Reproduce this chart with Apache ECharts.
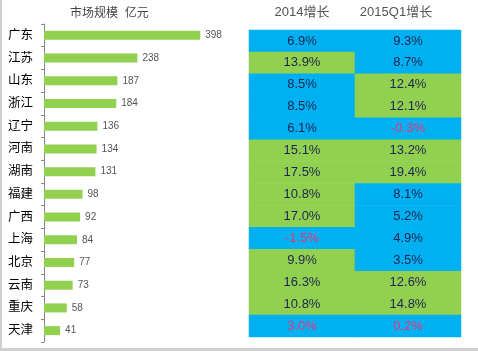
<!DOCTYPE html>
<html><head><meta charset="utf-8">
<script src="https://cdn.jsdelivr.net/npm/echarts@6/dist/echarts.min.js"></script>
<style>html,body{margin:0;padding:0;background:#fff}#c{width:478px;height:351px}</style>
</head><body><div id="c"></div>
<script>
const provinces = ['广东','江苏','山东','浙江','辽宁','河南','湖南','福建','广西','上海','北京','云南','重庆','天津'];
const marketSize = [398,238,187,184,136,134,131,98,92,84,77,73,58,41];
const growth2014 = [6.9,13.9,8.5,8.5,6.1,15.1,17.5,10.8,17.0,-1.5,9.9,16.3,10.8,3.0];
const growth2015Q1 = [9.3,8.7,12.4,12.1,-0.3,13.2,19.4,8.1,5.2,4.9,3.5,12.6,14.8,0.2];
const tableHeaders = ['2014增长','2015Q1增长'];
const barTitle = '市场规模  亿元';

const FONT = '"Liberation Sans", "Noto Sans CJK SC", sans-serif';
const BLUE = '#00b0f0', GREEN = '#92d050';
const chart = echarts.init(document.getElementById('c'));

function cellData(vals, col){ return vals.map((v,i)=>[col,i,v]); }
const labelCfg = {
  show:true, fontFamily:FONT, fontSize:13,
  formatter: p => { const v = p.value[2]; return (v < 3.2 ? '{neg|' : '{pos|') + v.toFixed(1) + '%}'; },
  rich:{ pos:{color:'#1d2550', fontSize:13, fontFamily:FONT}, neg:{color:'#e8357a', fontSize:13, fontFamily:FONT} }
};

chart.setOption({
  animation:false,
  backgroundColor:'#fff',
  grid:[
    {left:44, top:24, width:157, height:318},
    {left:249, top:30, width:212, height:307}
  ],
  xAxis:[
    {gridIndex:0, type:'value', min:0, max:400, show:false},
    {gridIndex:1, type:'category', data:tableHeaders, show:false}
  ],
  yAxis:[
    {gridIndex:0, type:'category', data:provinces, inverse:true,
     axisLine:{show:true, lineStyle:{color:'#888'}},
     axisTick:{show:true, length:3, lineStyle:{color:'#888'}},
     axisLabel:{color:'#000', fontSize:12.5, margin:11, fontFamily:FONT}},
    {gridIndex:1, type:'category', data:provinces, inverse:true, show:false}
  ],
  visualMap:[
    {type:'piecewise', show:false, seriesIndex:1, dimension:2,
     pieces:[{lt:9, color:BLUE},{gte:9, color:GREEN}]},
    {type:'piecewise', show:false, seriesIndex:2, dimension:2,
     pieces:[{lt:10, color:BLUE},{gte:10, color:GREEN}]}
  ],
  series:[
    {type:'bar', xAxisIndex:0, yAxisIndex:0, data:marketSize, barWidth:9,
     itemStyle:{color:GREEN},
     label:{show:true, position:'right', distance:5, color:'#555', fontSize:10, fontFamily:FONT}},
    {type:'heatmap', xAxisIndex:1, yAxisIndex:1, data:cellData(growth2014,0), label:labelCfg,
     itemStyle:{borderWidth:0}, emphasis:{disabled:true}},
    {type:'heatmap', xAxisIndex:1, yAxisIndex:1, data:cellData(growth2015Q1,1), label:labelCfg,
     itemStyle:{borderWidth:0}, emphasis:{disabled:true}}
  ],
  graphic:[
    {type:'text', left:70, top:8, style:{text:barTitle, fill:'#444', font:'12px '+FONT}},
    {type:'text', x:302, y:12, style:{text:tableHeaders[0], fill:'#555', font:'13px '+FONT, align:'center', verticalAlign:'middle'}},
    {type:'text', x:396, y:12, style:{text:tableHeaders[1], fill:'#555', font:'13px '+FONT, align:'center', verticalAlign:'middle'}},
    {type:'rect', shape:{x:0, y:0, width:2, height:351}, style:{fill:'#cfcfcf'}},
    {type:'rect', shape:{x:0, y:348, width:478, height:3}, style:{fill:'#cfcfcf'}}
  ]
});
</script></body></html>
